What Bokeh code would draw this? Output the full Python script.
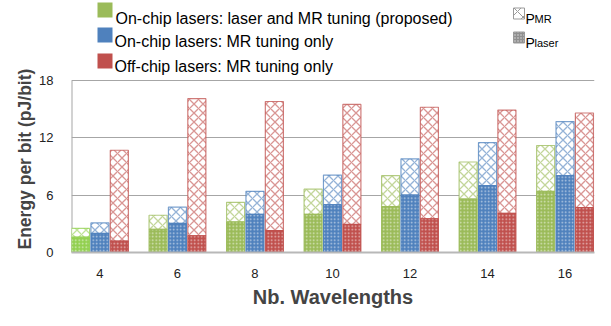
from bokeh.plotting import figure
from bokeh.models import FixedTicker, ColumnDataSource, Range1d, Title
from bokeh.core.properties import value
from bokeh.embed import file_html
from bokeh.resources import INLINE

wavelengths = ["4", "6", "8", "10", "12", "14", "16"]
series_names = ["On-chip lasers: laser and MR tuning (proposed)",
                "On-chip lasers: MR tuning only",
                "Off-chip lasers: MR tuning only"]
laser_green = [1.6, 2.43, 3.2, 4.0, 4.8, 5.6, 6.4]
mr_green = [0.93, 1.47, 2.05, 2.63, 3.24, 3.87, 4.8]
laser_blue = [2.0, 3.05, 4.0, 5.0, 6.02, 7.0, 8.04]
mr_blue = [1.1, 1.7, 2.4, 3.1, 3.78, 4.5, 5.66]
laser_red = [1.2, 1.75, 2.3, 2.94, 3.53, 4.1, 4.7]
mr_red = [9.5, 14.35, 13.5, 12.56, 11.67, 10.8, 9.9]
y_ticks = [0, 6, 12, 18]

colors = ["#9bbb59", "#4f81bd", "#c0504d"]
FONT = "Liberation Sans"
W, H = 595, 310
L, R, B = 71, 1, 58          # borders around the frame (px)
FB = H - B                    # frame bottom in page px
TOP18 = 80                    # page px where y = 18 sits
y_end = 18 * FB / (FB - TOP18)

p = figure(width=W, height=H, output_backend="svg", toolbar_location=None,
           x_range=(-0.367, 6.38), y_range=(0, y_end),
           min_border_left=L, min_border_right=R, min_border_top=0, min_border_bottom=B)
p.title.visible = False
p.outline_line_color = None
p.xgrid.grid_line_color = None
p.ygrid.grid_line_color = "#a6a6a6"
p.ygrid.grid_line_width = 1.2

# pixel-space ranges for the legend drawn above the bars
p.extra_x_ranges = {"px": Range1d(L, W - R)}
p.extra_y_ranges = {"py": Range1d(FB, 0)}

p.yaxis.ticker = FixedTicker(ticks=y_ticks)
p.yaxis.major_tick_line_color = None
p.yaxis.minor_tick_line_color = None
p.yaxis.axis_line_color = None
p.yaxis.major_label_standoff = 12
p.yaxis.major_label_text_font = FONT
p.yaxis.major_label_text_font_size = "13px"
p.yaxis.major_label_text_color = "#222222"
# visible left axis line only over the value span
p.segment(x0=[-0.367], y0=[0], x1=[-0.367], y1=[max(y_ticks)], line_color="#a6a6a6", line_width=2)

ylab = Title(text="Energy per bit (pJ/bit)", align="left", offset=3, standoff=4,
             text_font=FONT, text_font_style="bold", text_font_size="17.5px")
p.add_layout(ylab, "left")

idx = list(range(len(wavelengths)))
p.xaxis.ticker = FixedTicker(ticks=idx)
p.xaxis.major_label_overrides = {i: w for i, w in enumerate(wavelengths)}
p.xaxis.major_tick_line_color = None
p.xaxis.minor_tick_line_color = None
p.xaxis.axis_line_color = "#b8b8b8"
p.xaxis.axis_line_width = 2
p.xaxis.major_label_standoff = 10
p.xaxis.major_label_text_font = FONT
p.xaxis.major_label_text_font_size = "13px"
p.xaxis.major_label_text_color = "#222222"
p.xaxis.axis_label = "Nb. Wavelengths"
p.xaxis.axis_label_text_font = FONT
p.xaxis.axis_label_text_font_style = "bold"
p.xaxis.axis_label_text_font_size = "20px"
p.xaxis.axis_label_standoff = 5

bw = 0.233
offsets = [-0.25, 0.0, 0.25]
lasers = [laser_green, laser_blue, laser_red]
mrs = [mr_green, mr_blue, mr_red]
for k in range(3):
    xs = [i + offsets[k] for i in idx]
    lz = lasers[k]
    top = [a + b for a, b in zip(lz, mrs[k])]
    fc = [colors[k]] * len(idx)
    if k == 0:
        fc[0] = "#92d050"
    src = ColumnDataSource(dict(x=xs, laser=lz, top=top, fc=fc))
    p.vbar(x="x", width=bw, bottom="laser", top="top", source=src,
           fill_color="white", line_color="fc", line_alpha=0.75, line_width=1.2,
           hatch_pattern="diagonal_cross", hatch_color="fc", hatch_alpha=0.6,
           hatch_scale=9, hatch_weight=1.3)
    p.vbar(x="x", width=bw, bottom=0, top="laser", source=src,
           fill_color="fc", line_color="fc", line_width=1,
           hatch_pattern="dot", hatch_color="white", hatch_alpha=0.6,
           hatch_scale=3.5, hatch_weight=1.2)

# ---- legend (pixel coordinates) ----
sq_top = [2, 27, 53]
txt_base = [17.5, 41, 65.5]
p.quad(left=[97] * 3, right=[112] * 3, top=sq_top, bottom=[t + 15 for t in sq_top],
       fill_color=colors, line_color=None, x_range_name="px", y_range_name="py")
p.text(x=[115, 114, 114], y=txt_base, text=series_names,
       text_font=value(FONT), text_font_size="16px", text_baseline="alphabetic",
       text_color="black", x_range_name="px", y_range_name="py")

p.quad(left=[513], right=[524], top=[7.5], bottom=[18.5], fill_color="white",
       line_color="#9a9a9a", line_width=1, hatch_pattern="diagonal_cross",
       hatch_color="#9a9a9a", hatch_scale=11, hatch_weight=1,
       x_range_name="px", y_range_name="py")
p.quad(left=[513], right=[524], top=[31.5], bottom=[42.5], fill_color="#8f8f8f",
       line_color="#9a9a9a", line_width=1, hatch_pattern="dot",
       hatch_color="white", hatch_alpha=0.7, hatch_scale=3, hatch_weight=1,
       x_range_name="px", y_range_name="py")
p.text(x=[525, 525], y=[18.5, 42.2], text=["P", "P"], text_font=value(FONT),
       text_font_size="14px", text_baseline="alphabetic", text_color="black",
       x_range_name="px", y_range_name="py")
p.text(x=[534, 534], y=[18.5, 42.2], text=["MR", "laser"], text_font=value(FONT),
       text_font_size="11px", text_baseline="alphabetic", text_color="black",
       x_range_name="px", y_range_name="py")

open("out.html", "w").write(file_html(p, INLINE))
